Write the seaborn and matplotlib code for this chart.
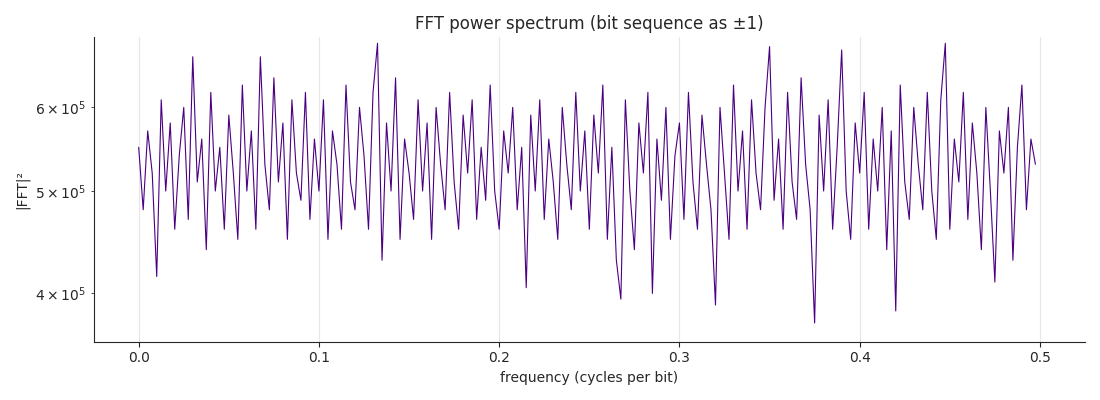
import numpy as np
import pandas as pd
import matplotlib
matplotlib.use("Agg")
import matplotlib.pyplot as plt
import seaborn as sns

# power values, in units of 1e5
power = [
    5.5, 4.8, 5.7, 5.2, 4.15, 6.1, 5.0, 5.8, 4.6, 5.4, 6.0, 4.7, 6.7, 5.1, 5.6, 4.4, 6.2, 5.0, 5.5, 4.6,
    5.9, 5.2, 4.5, 6.3, 5.0, 5.7, 4.6, 6.7, 5.3, 4.8, 6.4, 5.1, 5.8, 4.5, 6.1, 5.2, 4.9, 6.2, 4.7, 5.6,
    5.0, 6.1, 4.5, 5.7, 5.3, 4.6, 6.3, 5.1, 4.8, 6.0, 5.4, 4.6, 6.2, 6.9, 4.3, 5.8, 5.0, 6.4, 4.5, 5.6,
    5.2, 4.7, 6.1, 5.0, 5.8, 4.5, 6.0, 5.3, 4.8, 6.2, 5.1, 4.6, 5.9, 5.2, 6.1, 4.7, 5.5, 4.9, 6.3, 5.0,
    4.6, 5.7, 5.2, 6.0, 4.8, 5.5, 4.05, 5.9, 5.0, 6.1, 4.7, 5.6, 5.1, 4.5, 6.0, 5.3, 4.8, 6.2, 5.0, 5.7,
    4.6, 5.9, 5.2, 6.3, 4.5, 5.5, 4.3, 3.95, 6.1, 5.0, 4.4, 5.8, 5.2, 6.2, 4.0, 5.6, 4.9, 6.0, 4.5, 5.4,
    5.8, 4.7, 6.2, 5.1, 4.6, 5.9, 5.3, 4.8, 3.9, 6.0, 5.2, 4.5, 6.3, 5.0, 5.7, 4.6, 6.1, 5.2, 4.8, 6.0,
    6.85, 4.9, 5.6, 4.6, 6.2, 5.1, 4.7, 6.4, 5.3, 4.8, 3.75, 5.9, 5.0, 6.1, 4.6, 5.5, 6.8, 5.0, 4.5, 5.8,
    5.2, 6.2, 4.6, 5.6, 5.0, 6.0, 4.4, 5.7, 3.85, 6.3, 5.1, 4.7, 6.0, 5.3, 4.8, 6.2, 5.0, 4.5, 6.1, 6.9,
    4.6, 5.6, 5.1, 6.2, 4.7, 5.8, 5.2, 4.4, 6.0, 5.0, 4.1, 5.7, 5.2, 6.0, 4.3, 5.5, 6.3, 4.8, 5.6, 5.3,
]
freq = np.arange(len(power)) / 400.0

df = pd.DataFrame({"freq": freq, "power": np.array(power) * 1e5})

sns.set_style("ticks")
fig, ax = plt.subplots(figsize=(11, 4), dpi=100)
sns.lineplot(data=df, x="freq", y="power", color="#4b0082", linewidth=0.8, ax=ax)
ax.set_yscale("log")
ax.set_ylim(3.6e5, 6.99e5)
ax.set_xlim(-0.025, 0.525)
ax.xaxis.grid(True, color="#e6e6e6", linewidth=0.8)
ax.set_axisbelow(True)
sns.despine(ax=ax)
ax.set_title("FFT power spectrum (bit sequence as ±1)", fontsize=12)
ax.set_xlabel("frequency (cycles per bit)")
ax.set_ylabel("|FFT|²")
fig.tight_layout()
fig.savefig("out.png")
